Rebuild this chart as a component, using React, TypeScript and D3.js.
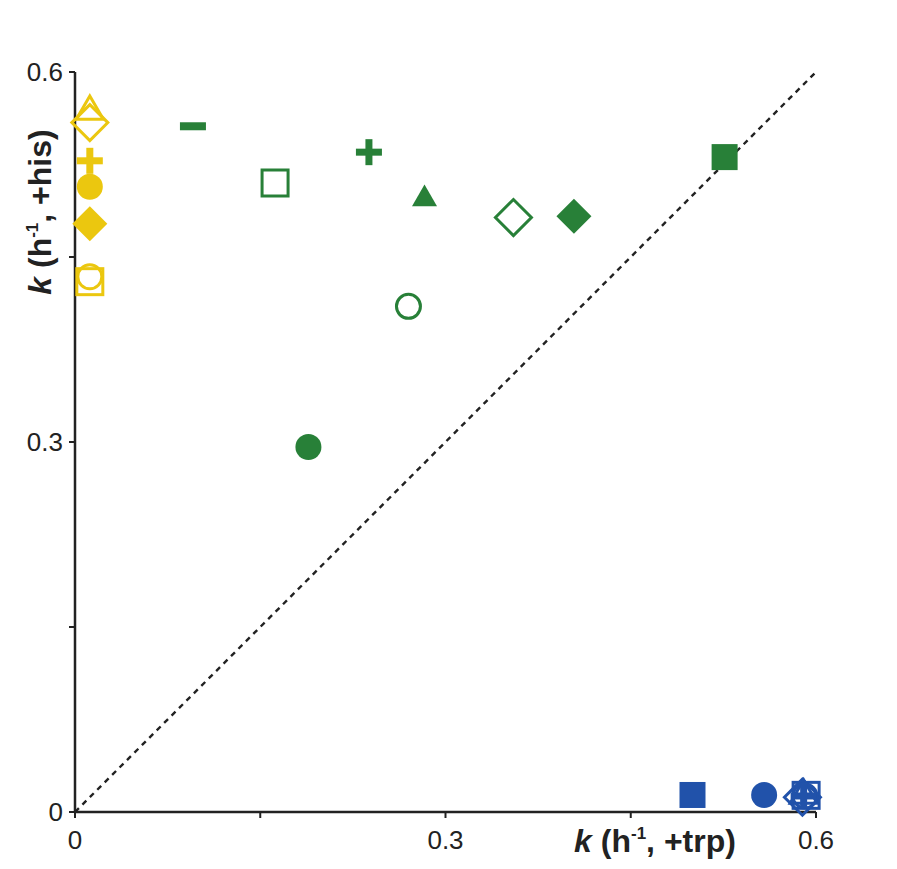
import React from "react";
import * as d3 from "d3";

// ---- data ----
const shapes = ["minus","square-open","plus","triangle-filled","diamond-open","diamond-filled","square-filled","circle-open","circle-filled"];
const greenX = [0.0955, 0.162, 0.238, 0.283, 0.355, 0.404, 0.526, 0.270, 0.189];
const greenY = [0.556, 0.510, 0.535, 0.497, 0.482, 0.483, 0.531, 0.410, 0.296];

const yellowShapes = ["triangle-open","diamond-open","plus","circle-filled","diamond-filled","circle-open","square-open"];
const yellowX = [0.012, 0.012, 0.012, 0.012, 0.012, 0.012, 0.012];
const yellowY = [0.568, 0.559, 0.528, 0.507, 0.477, 0.434, 0.430];

const blueShapes = ["square-filled","circle-filled","square-open","diamond-open","triangle-open","circle-open","plus"];
const blueX = [0.500, 0.558, 0.592, 0.589, 0.590, 0.591, 0.590];
const blueY = [0.0138, 0.0138, 0.0135, 0.012, 0.0135, 0.013, 0.013];

const xTicks = [0, 0.15, 0.3, 0.45, 0.6];
const yTicks = [0, 0.15, 0.3, 0.45, 0.6];
const labeledTicks = [0, 0.3, 0.6];

const GREEN = "#288038";
const YELLOW = "#ebc70f";
const BLUE = "#2152aa";

const W = 897, H = 869;
const x = d3.scaleLinear().domain([0, 0.6]).range([75, 816]);
const y = d3.scaleLinear().domain([0, 0.6]).range([812, 72]);

function Marker({ shape, cx, cy, color }: { shape: string; cx: number; cy: number; color: string }) {
  const sw = 3;
  const t = `translate(${cx},${cy})`;
  const filled = shape.endsWith("filled");
  const fill = filled ? color : "none";
  const stroke = filled ? "none" : color;
  if (shape.startsWith("square")) {
    const s = 26;
    return <rect transform={t} x={-s / 2} y={-s / 2} width={s} height={s} fill={fill} stroke={stroke} strokeWidth={sw} />;
  }
  if (shape.startsWith("circle")) {
    const r = filled ? 13 : 12;
    return <circle transform={t} r={r} fill={fill} stroke={stroke} strokeWidth={sw} />;
  }
  if (shape.startsWith("diamond")) {
    const h = filled ? 17.5 : 18;
    const p = `M0,${-h}L${h},0L0,${h}L${-h},0Z`;
    return <path transform={t} d={p} fill={fill} stroke={stroke} strokeWidth={sw} />;
  }
  if (shape.startsWith("triangle")) {
    const s = filled ? 25 : 27;
    const hgt = s * Math.sqrt(3) / 2;
    const p = `M0,${-hgt * 2 / 3}L${s / 2},${hgt / 3}L${-s / 2},${hgt / 3}Z`;
    return <path transform={t} d={p} fill={fill} stroke={stroke} strokeWidth={sw} />;
  }
  if (shape === "plus") {
    return (
      <g transform={t} fill={color}>
        <rect x={-13} y={-3.5} width={26} height={7} />
        <rect x={-3.5} y={-13} width={7} height={26} />
      </g>
    );
  }
  if (shape === "minus") {
    return <rect transform={t} x={-13} y={-4} width={26} height={8} fill={color} />;
  }
  return null;
}

export default function App() {
  const font = "'Liberation Sans', Arial, Helvetica, sans-serif";
  return (
    <svg width={W} height={H} style={{ display: "block", position: "absolute", left: 0, top: 0 }} fontFamily={font}>
      <rect width={W} height={H} fill="white" />
      {/* diagonal */}
      <line x1={x(0)} y1={y(0)} x2={x(0.6)} y2={y(0.6)} stroke="#222" strokeWidth={2.4} strokeDasharray="5.5,5" />
      {/* axes */}
      <line x1={x(0)} y1={y(0)} x2={x(0.6)} y2={y(0)} stroke="#222" strokeWidth={2.5} />
      <line x1={x(0)} y1={y(0)} x2={x(0)} y2={y(0.6)} stroke="#222" strokeWidth={2.5} />
      {xTicks.map((v) => (
        <line key={"xt" + v} x1={x(v)} x2={x(v)} y1={y(0)} y2={y(0) + 6} stroke="#222" strokeWidth={2} />
      ))}
      {yTicks.map((v) => (
        <line key={"yt" + v} x1={x(0)} x2={x(0) - 6} y1={y(v)} y2={y(v)} stroke="#222" strokeWidth={2} />
      ))}
      {labeledTicks.map((v) => (
        <text key={"xl" + v} x={x(v)} y={849} textAnchor="middle" fontSize={26} fill="#222">{v === 0 ? "0" : String(v)}</text>
      ))}
      {labeledTicks.map((v) => (
        <text key={"yl" + v} x={63} y={y(v) + 9} textAnchor="end" fontSize={26} fill="#222">{v === 0 ? "0" : String(v)}</text>
      ))}
      {/* axis titles */}
      <text x={655} y={852} textAnchor="middle" fontSize={32} fontWeight="bold" fill="#222">
        <tspan fontStyle="italic">k</tspan>
        <tspan> (h</tspan>
        <tspan fontSize={17} dy={-13}>-1</tspan>
        <tspan dy={13}>, +trp)</tspan>
      </text>
      <text transform={`translate(51,212) rotate(-90)`} textAnchor="middle" fontSize={32} fontWeight="bold" fill="#222">
        <tspan fontStyle="italic">k</tspan>
        <tspan> (h</tspan>
        <tspan fontSize={17} dy={-13}>-1</tspan>
        <tspan dy={13}>, +his)</tspan>
      </text>
      {/* markers */}
      {shapes.map((s, i) => (
        <Marker key={"g" + i} shape={s} cx={x(greenX[i])} cy={y(greenY[i])} color={GREEN} />
      ))}
      {yellowShapes.map((s, i) => (
        <Marker key={"y" + i} shape={s} cx={x(yellowX[i])} cy={y(yellowY[i])} color={YELLOW} />
      ))}
      {blueShapes.map((s, i) => (
        <Marker key={"b" + i} shape={s} cx={x(blueX[i])} cy={y(blueY[i])} color={BLUE} />
      ))}
    </svg>
  );
}
